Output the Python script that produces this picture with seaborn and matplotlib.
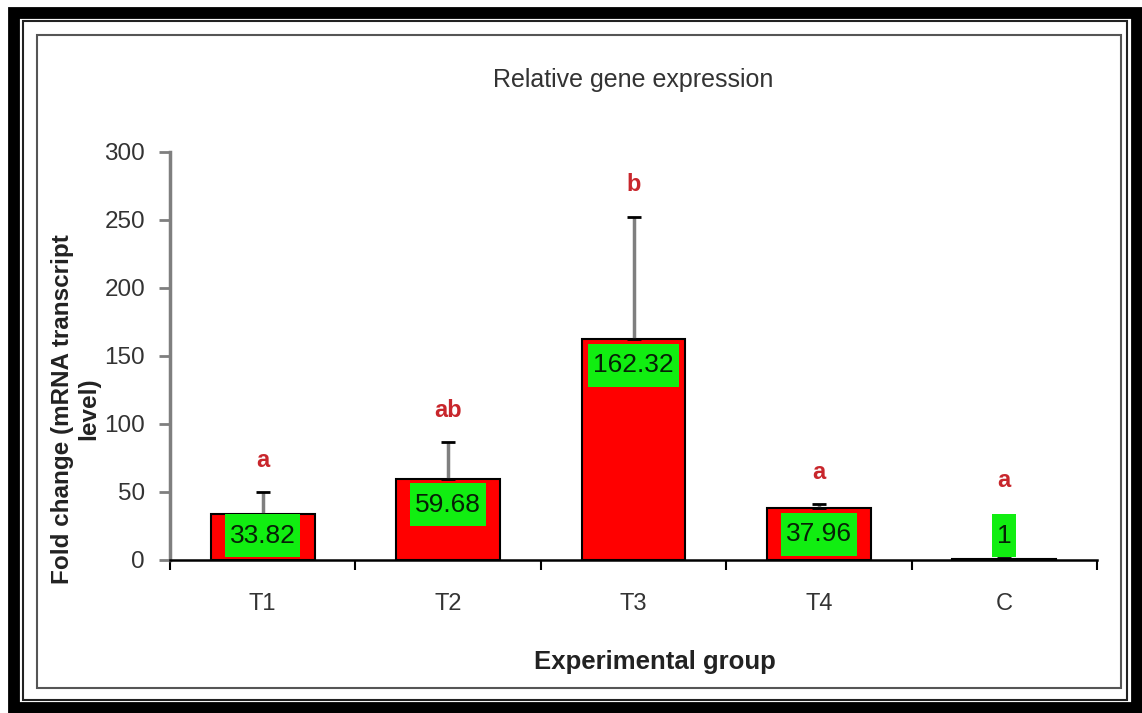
import numpy as np
import pandas as pd
import matplotlib
matplotlib.use('Agg')
import matplotlib.pyplot as plt
from matplotlib.patches import Rectangle
from matplotlib.path import Path
import seaborn as sns

groups = ['T1', 'T2', 'T3', 'T4', 'C']
fold_change = [33.82, 59.68, 162.32, 37.96, 1]
error_up = [16, 27, 90, 3, 0.5]
letters = ['a', 'ab', 'b', 'a', 'a']

df = pd.DataFrame({'group': groups, 'fold': fold_change})

sns.set_style('white')
plt.rcParams['font.family'] = ['Liberation Sans', 'DejaVu Sans']


def tall_box(x0, y0, width, height, mutation_size):
    # box with small side padding and larger top/bottom padding
    px, py = 0.18 * mutation_size, 0.36 * mutation_size
    x0, y0 = x0 - px, y0 - py
    x1, y1 = x0 + width + 2 * px, y0 + height + 2 * py
    return Path([(x0, y0), (x1, y0), (x1, y1), (x0, y1), (x0, y0)], closed=True)


fig = plt.figure(figsize=(11.42, 7.13), dpi=100)
ax = fig.add_axes([170 / 1142, 153 / 713, (1097 - 170) / 1142, (560 - 152) / 713])

sns.barplot(data=df, x='group', y='fold', color='#ff0000', edgecolor='black',
            linewidth=1.5, width=0.56, errorbar=None, saturation=1, ax=ax)

# one-sided error bars: grey stem, black cap
eb = ax.errorbar(np.arange(len(groups)), fold_change,
                 yerr=[np.zeros(len(groups)), error_up],
                 fmt='none', ecolor='#7f7f7f', elinewidth=2.5,
                 capsize=5, capthick=2, zorder=1)
for cap in eb[1]:
    cap.set_color('black')
    cap.set_markeredgecolor('black')

# value labels in green boxes + significance letters
for i, (v, e, let) in enumerate(zip(fold_change, error_up, letters)):
    ax.annotate(f'{v:g}', xy=(i, max(v, 37)), xytext=(0, -26),
                textcoords='offset pixels', ha='center', va='center',
                fontsize=19, color='#062006',
                bbox=dict(boxstyle=tall_box, fc='#11ee11', ec='none'),
                zorder=5)
    ax.annotate(let, xy=(i, max(v + e, 35)), xytext=(0, 32),
                textcoords='offset pixels', ha='center', va='center',
                fontsize=17, fontweight='bold', color='#c8262c', zorder=5)

ax.set_ylim(0, 300)
ax.set_xlim(-0.5, 4.5)
ax.set_yticks(range(0, 301, 50))
ax.set_xticks(range(len(groups)))
ax.set_xticklabels(groups)
ax.set_xticks(np.arange(-0.5, 4.6, 1), minor=True)

for side in ['top', 'right']:
    ax.spines[side].set_visible(False)
ax.spines['left'].set_color('#7f7f7f')
ax.spines['left'].set_linewidth(2.5)
ax.spines['bottom'].set_color('black')
ax.spines['bottom'].set_linewidth(1.8)

ax.tick_params(axis='y', which='major', left=True, direction='out', length=8,
               width=2, color='#7f7f7f', labelsize=17.5, labelcolor='#333333',
               pad=10)
ax.tick_params(axis='x', which='major', bottom=False, length=0, labelsize=17,
               labelcolor='#333333', pad=24)
ax.tick_params(axis='x', which='minor', bottom=True, direction='out', length=7,
               width=1.5, color='black')

ax.set_title('Relative gene expression', fontsize=18, color='#333333', pad=47)
ax.set_xlabel('Experimental group', fontsize=18.5, fontweight='bold',
              color='#222222')
ax.xaxis.set_label_coords(0.523, -0.22)
ax.set_ylabel('Fold change (mRNA transcript\nlevel)', fontsize=17.5,
              fontweight='bold', color='#222222')
ax.yaxis.set_label_coords(-0.075, 0.37)

# picture frame around the chart
W, H = 1142, 713
def frame(x0, y0, x1, y1, lw, color):
    fig.patches.append(Rectangle((x0 / W, 1 - y1 / H), (x1 - x0) / W, (y1 - y0) / H,
                                 transform=fig.transFigure, fill=False,
                                 lw=lw, ec=color, zorder=10))

frame(14, 13, 1137, 708, 8.5, 'black')
frame(23, 21, 1127, 700, 1.5, '#222222')
frame(37, 35, 1121, 688, 1.5, '#555555')

fig.savefig('out.png', dpi=100, facecolor='white')
